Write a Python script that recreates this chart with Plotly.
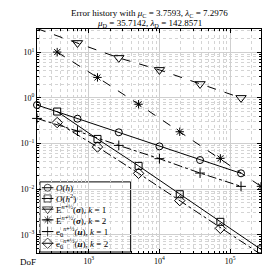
import plotly.graph_objects as go

# DoF values
dof_k1 = [185, 692, 2660, 10000, 37600, 143000]
dof_k2 = [357, 1328, 5070, 19400, 72900, 274000]

# reference slopes
ref_h = [0.698, 0.350, 0.176, 0.0865, 0.0434, 0.0222]
ref_h2 = [0.502, 0.126, 0.0323, 0.00774, 0.00192, 0.000477]

# errors
sigma_k1 = [33.0, 16.0, 7.53, 4.11, 2.02, 1.0]
sigma_k2 = [10.1, 2.81, 0.726, 0.181, 0.0472, 0.0115]
u_k1 = [0.355, 0.187, 0.0908, 0.0465, 0.0225, 0.0115]
u_k2 = [0.288, 0.0839, 0.0222, 0.0056, 0.00138, 0.00037]

x_tick_vals = [1e3, 1e4, 1e5]
x_tick_text = ["10<sup>3</sup>", "10<sup>4</sup>", "10<sup>5</sup>"]
y_tick_vals = [1e-3, 1e-2, 1e-1, 1, 10]
y_tick_text = ["10<sup>−3</sup>", "10<sup>−2</sup>", "10<sup>−1</sup>", "10<sup>0</sup>", "10<sup>1</sup>"]

labels = [
    "<i>O</i>(<i>h</i>)",
    "<i>O</i>(<i>h</i><sup>2</sup>)",
    "E<sup><i>n</i>+½</sup>(<b><i>σ</i></b>), <i>k</i> = 1",
    "E<sup><i>n</i>+½</sup>(<b><i>σ</i></b>), <i>k</i> = 2",
    "e<sub>0</sub><sup><i>n</i>+½</sup>(<b><i>u</i></b>), <i>k</i> = 1",
    "e<sub>0</sub><sup><i>n</i>+½</sup>(<b><i>u</i></b>), <i>k</i> = 2",
]

series = [
    (dof_k1, ref_h, "circle-open", "solid", 7),
    (dof_k2, ref_h2, "square-open", "solid", 7),
    (dof_k1, sigma_k1, "triangle-down-open", "dash", 9),
    (dof_k2, sigma_k2, "asterisk-open", "dash", 7),
    (dof_k1, u_k1, "cross-thin-open", "dashdot", 7),
    (dof_k2, u_k2, "diamond-open", "dashdot", 8),
]

serif = "Liberation Serif, DejaVu Serif, serif"

X_RANGE = [2.267, 5.438]
Y_RANGE = [-3.40, 1.51]

# plot-area pixel geometry (for legend placement)
L, R, T, B = 21, 253, 21, 251
W, H = R - L, B - T
def px(xp):
    return (xp - L) / W
def py(yp):
    return (B - yp) / H
def dx(xp):
    return 10 ** (X_RANGE[0] + px(xp) * (X_RANGE[1] - X_RANGE[0]))
def dy(yp):
    return 10 ** (Y_RANGE[0] + py(yp) * (Y_RANGE[1] - Y_RANGE[0]))

fig = go.Figure()
for (x, y, sym, dash, sz), name in zip(series, labels):
    fig.add_trace(go.Scatter(
        x=x, y=y, name=name, mode="lines+markers",
        line=dict(color="black", width=1, dash=dash),
        marker=dict(symbol=sym, size=sz, color="black", line=dict(color="black", width=1)),
        cliponaxis=False, showlegend=False,
    ))

# custom compact legend
box = dict(type="rect", xref="paper", yref="paper",
           x0=px(24), x1=px(118), y0=py(250), y1=py(178),
           fillcolor="white", line=dict(color="black", width=1), layer="between")
shapes = [box]
annotations = []
row_y = [184, 195, 206, 217, 229, 241]
for (x, y, sym, dash, sz), name, ry in zip(series, labels, row_y):
    fig.add_trace(go.Scatter(
        x=[dx(26), dx(32), dx(38)], y=[dy(ry)] * 3, mode="lines+markers",
        line=dict(color="black", width=1, dash="solid"),
        marker=dict(symbol=sym, size=[0, sz, 0], color="black", line=dict(color="black", width=1)),
        cliponaxis=False, showlegend=False, hoverinfo="skip",
    ))
    annotations.append(dict(text=name, xref="paper", yref="paper", x=px(39), y=py(ry),
                            xanchor="left", yanchor="middle", showarrow=False,
                            font=dict(family=serif, size=9, color="black")))

annotations += [
    dict(text="Error history with <i>μ</i><sub>C</sub> = 3.7593, <i>λ</i><sub>C</sub> = 7.2976",
         xref="paper", yref="paper", x=0.5, y=1, yshift=16, xanchor="center", yanchor="middle",
         showarrow=False, font=dict(family=serif, size=9, color="black")),
    dict(text="<i>μ</i><sub>D</sub> = 35.7142, <i>λ</i><sub>D</sub> = 142.8571",
         xref="paper", yref="paper", x=0.5, y=1, yshift=6, xanchor="center", yanchor="middle",
         showarrow=False, font=dict(family=serif, size=9, color="black")),
    dict(text="DoF", xref="paper", yref="paper", x=0, y=0, xshift=-19, yshift=-2,
         xanchor="left", yanchor="top", showarrow=False,
         font=dict(family=serif, size=9, color="black")),
]

fig.update_layout(
    width=270, height=270,
    margin=dict(l=L, r=270 - R, t=T, b=270 - B),
    paper_bgcolor="white", plot_bgcolor="white",
    font=dict(family=serif, size=8, color="black"),
    showlegend=False,
    shapes=shapes,
    annotations=annotations,
)

def minor_vals(lo, hi):
    vals = []
    for e in range(lo, hi + 1):
        for m in range(2, 10):
            vals.append(m * 10.0 ** e)
    return vals

axis_common = dict(
    type="log", showline=True, linecolor="black", linewidth=1, mirror="ticks",
    ticks="inside", ticklen=4, tickcolor="black",
    showgrid=True, gridcolor="#cfcfcf", gridwidth=1,
    zeroline=False, tickmode="array",
    tickfont=dict(family=serif, size=8, color="black"),
)
fig.update_xaxes(range=X_RANGE, tickvals=x_tick_vals, ticktext=x_tick_text,
                 minor=dict(tickmode="array", tickvals=minor_vals(2, 5), ticks="inside", ticklen=2,
                            tickcolor="black", showgrid=True, gridcolor="#d4d4d4", griddash="dot"),
                 **axis_common)
fig.update_yaxes(range=Y_RANGE, tickvals=y_tick_vals, ticktext=y_tick_text,
                 minor=dict(tickmode="array", tickvals=minor_vals(-4, 1), ticks="inside", ticklen=2,
                            tickcolor="black", showgrid=True, gridcolor="#d4d4d4", griddash="dot"),
                 **axis_common)

fig.write_html("out.html")
